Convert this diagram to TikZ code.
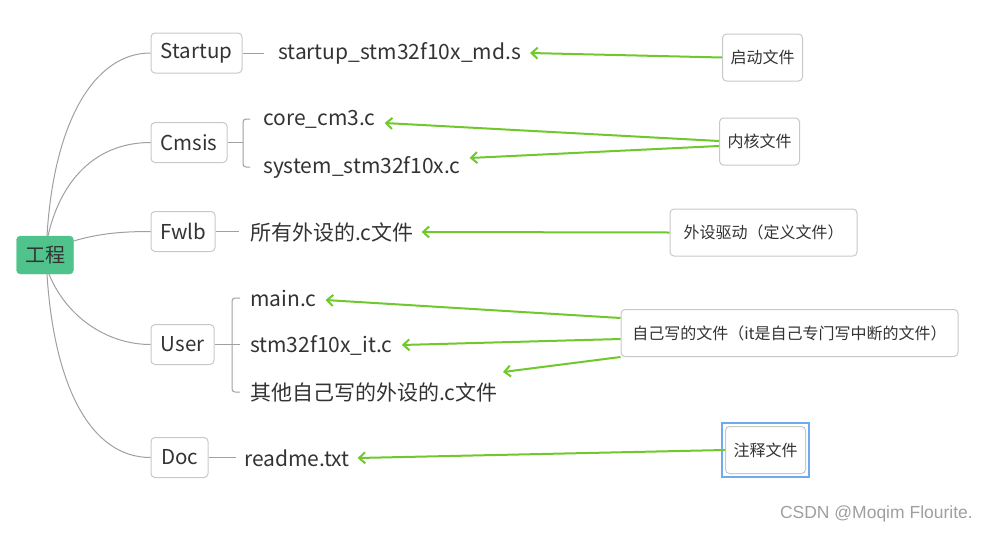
\documentclass[tikz,border=0pt]{standalone}
\usepackage{fontspec}
\setmainfont{Noto Sans CJK SC}
\newfontfamily\wmfont{Liberation Sans}
\usetikzlibrary{arrows.meta,calc}
\definecolor{rootgreen}{RGB}{80,194,139}
\definecolor{txt}{RGB}{51,51,51}
\definecolor{boxgray}{RGB}{200,200,200}
\definecolor{linegray}{RGB}{160,160,160}
\definecolor{arrgreen}{RGB}{112,200,45}
\definecolor{selblue}{RGB}{110,170,240}
\tikzset{
  rootbox/.style={fill=rootgreen,draw=rootgreen,rounded corners=4pt,minimum width=57pt,minimum height=38pt,inner sep=0pt,text=txt,font=\fontsize{20}{22}\selectfont},
  topicbox/.style={draw=boxgray,line width=1pt,rounded corners=4pt,minimum height=40pt,inner xsep=8pt,text=txt,font=\fontsize{20.5}{22}\selectfont},
  leaf/.style={anchor=west,inner sep=0pt,text=txt,font=\fontsize{21}{23}\selectfont},
  note/.style={draw=boxgray,line width=1pt,rounded corners=4pt,minimum height=47pt,inner xsep=8pt,text=txt,font=\fontsize{16}{18}\selectfont},
  branch/.style={draw=linegray,line width=1pt},
  callarrow/.style={draw=arrgreen,line width=2pt,-{Straight Barb[length=6pt,width=11pt,line width=2pt]}},
}
\begin{document}
\begin{tikzpicture}[x=1pt,y=-1pt]
\useasboundingbox (0,0) rectangle (987,533);
% root and topics
\node[rootbox] (root) at (45,255) {工程};
\node[topicbox,minimum width=91pt] (startup) at (196.5,53) {Startup};
\node[topicbox,minimum width=76pt] (cmsis) at (189,142.5) {Cmsis};
\node[topicbox,minimum width=64pt] (fwlb) at (183,231.5) {Fwlb};
\node[topicbox,minimum width=63pt] (user) at (182.5,344.5) {User};
\node[topicbox,minimum width=57pt] (doc) at (179.5,457.5) {Doc};
% leaves
\node[leaf] (s1) at (278,53) {startup\_stm32f10x\_md.s};
\node[leaf] (c1) at (263,119) {core\_cm3.c};
\node[leaf] (c2) at (263,167) {system\_stm32f10x.c};
\node[leaf] (f1) at (250,232) {所有外设的.c文件};
\node[leaf] (u1) at (250,298) {main.c};
\node[leaf] (u2) at (250,345) {stm32f10x\_it.c};
\node[leaf] (u3) at (250,392) {其他自己写的外设的.c文件};
\node[leaf] (d1) at (244,458) {readme.txt};
% notes
\node[note] (n1) at (762.5,57.5) {启动文件};
\node[note] (n2) at (759.5,141.5) {内核文件};
\node[note,minimum width=187pt] (n3) at (763.5,232.5) {外设驱动（定义文件）};
\node[note,minimum width=337pt] (n4) at (789.5,333) {自己写的文件（it是自己专门写中断的文件）};
\node[note,minimum width=79pt] (n5) at (765.5,450) {注释文件};
\draw[selblue,line width=2pt] ([shift={(-3,-3)}]n5.north west) rectangle ([shift={(3,3)}]n5.south east);
% root branches
\draw[branch] ([xshift=2pt]root.north) .. controls (54,120) and (95,53) .. (startup.west);
\draw[branch] ([xshift=3pt]root.north) .. controls (62,175) and (100,142.5) .. (cmsis.west);
\draw[branch] ([yshift=14pt]root.east) .. controls (100,233) and (125,231.5) .. (fwlb.west);
\draw[branch] ([xshift=4pt]root.south) .. controls (68,320) and (110,344.5) .. (user.west);
\draw[branch] ([xshift=2pt]root.south) .. controls (54,385) and (90,457.5) .. (doc.west);
% topic to leaves
\coordinate (cb) at (243,142.5);
\coordinate (ub) at (240,344.5);
\draw[branch] (startup.east) -- ++(21,0);
\draw[branch] (cmsis.east) -- (cb);
\draw[branch,rounded corners=3pt] ([xshift=-13pt]c1.west) -| (cb) |- ([xshift=-13pt]c2.west);
\draw[branch] (fwlb.east) -- ++(23,0);
\draw[branch] (user.east) -- (ub);
\draw[branch,rounded corners=3pt] ([xshift=-10pt]u1.west) -| ([xshift=-8pt]ub) |- ([xshift=-10pt]u3.west);
\draw[branch] (doc.east) -- ++(27,0);
% callout arrows
\coordinate (u3t) at (503,372);
\draw[callarrow] (n1.west) -- ([xshift=9pt,yshift=0pt]s1.east);
\draw[callarrow] ([yshift=0.5pt]n2.west) -- ([xshift=9pt,yshift=-4pt]c1.east);
\draw[callarrow] ([yshift=-4.5pt]n2.west) -- ([xshift=9pt,yshift=9pt]c2.east);
\draw[callarrow] (n3.west) -- ([xshift=8pt]f1.east);
\draw[callarrow] ([yshift=15pt]n4.west) -- ([xshift=9pt,yshift=-2pt]u1.east);
\draw[callarrow] ([yshift=-6pt]n4.west) -- ([xshift=9pt]u2.east);
\draw[callarrow] ([yshift=-24pt]n4.west) -- (u3t);
\draw[callarrow] (n5.west) -- ([xshift=8pt]d1.east);
% watermark
\node[anchor=east,inner sep=0pt,text=gray!75,font=\wmfont\fontsize{17.5}{19}\selectfont] (wm) at (973,514) {CSDN @Moqim Flourite.};
\end{tikzpicture}
\end{document}
